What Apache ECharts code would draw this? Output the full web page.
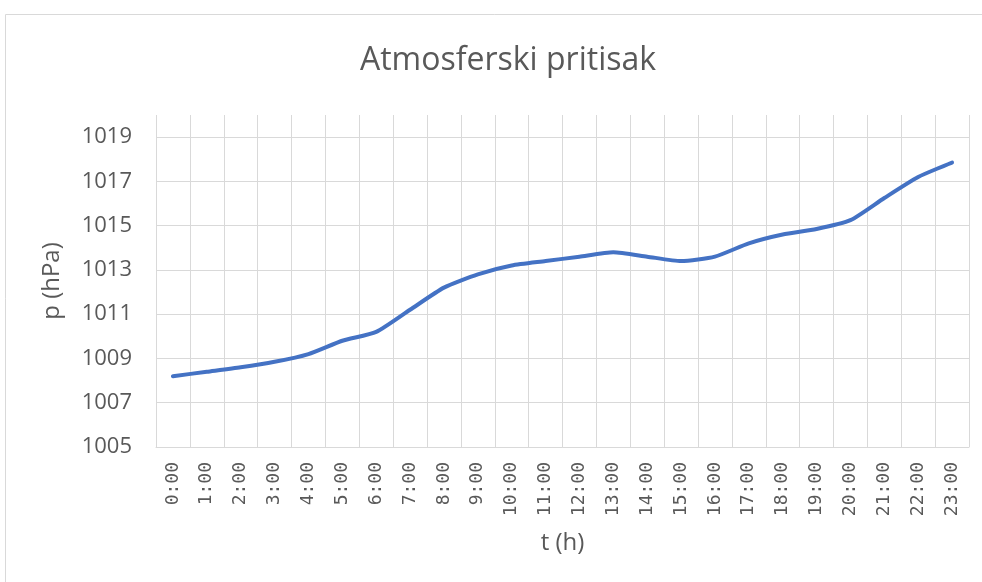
<!DOCTYPE html>
<html><head><meta charset="utf-8">
<script src="https://cdn.jsdelivr.net/npm/echarts@6/dist/echarts.min.js"></script>
<style>html,body{margin:0;padding:0;background:#fff}#c{width:982px;height:582px}</style>
</head><body><div id="c"></div>
<script>
const categories = ['0:00','1:00','2:00','3:00','4:00','5:00','6:00','7:00','8:00','9:00','10:00','11:00','12:00','13:00','14:00','15:00','16:00','17:00','18:00','19:00','20:00','21:00','22:00','23:00'];
const pressure = [1008.2,1008.4,1008.6,1008.85,1009.2,1009.8,1010.2,1011.2,1012.2,1012.8,1013.2,1013.4,1013.6,1013.8,1013.6,1013.4,1013.6,1014.2,1014.6,1014.85,1015.25,1016.25,1017.2,1017.85];
const yMin = 1005, yMax = 1020, yStep = 2;
const txt = '#595959', grid = '#d9d9d9';
const chart = echarts.init(document.getElementById('c'));
chart.setOption({
  animation: false,
  graphic: [{type:'rect', shape:{x:5.5,y:14.5,width:990,height:600}, style:{fill:'none', stroke:'#d9d9d9', lineWidth:1}, z:-1}],
  title: {text:'Atmosferski pritisak', left: 503, top: 40, textAlign:'center',
    textStyle:{fontFamily:'Open Sans', fontWeight:'normal', fontSize:32, color:txt}},
  grid: {left:156, right:13, top:115, bottom:135},
  xAxis: {type:'category', data:categories, boundaryGap:true,
    name:'t (h)', nameLocation:'middle', nameGap:84,
    nameTextStyle:{fontFamily:'Open Sans', fontSize:24, color:txt},
    axisLine:{lineStyle:{color:grid}}, axisTick:{show:false},
    axisLabel:{rotate:90, interval:0, fontFamily:'DejaVu Sans Mono', fontSize:18, color:txt, margin:15},
    splitLine:{show:true, lineStyle:{color:grid, width:1}}},
  yAxis: {type:'value', min:yMin, max:yMax, interval:yStep,
    name:'p (hPa)', nameLocation:'middle', nameGap:92,
    nameTextStyle:{fontFamily:'Open Sans', fontSize:24, color:txt},
    axisLine:{show:false}, axisTick:{show:false},
    axisLabel:{fontFamily:'Open Sans', fontSize:22, color:txt, margin:24,
      formatter: v => (v - yMin) % yStep === 0 ? String(v) : ''},
    splitLine:{show:true, showMaxLine:false, lineStyle:{color:grid, width:1}}},
  series: [{type:'line', data:pressure, smooth:0.2, symbol:'none',
    lineStyle:{color:'#4472C4', width:4, cap:'round'}}]
});
</script></body></html>
